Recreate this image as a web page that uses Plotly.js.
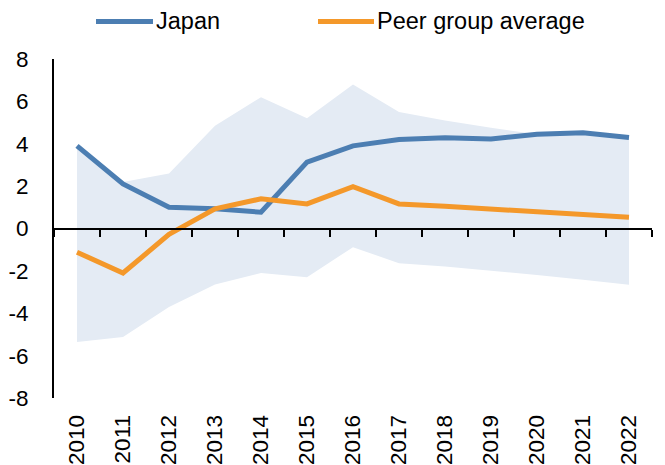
<!DOCTYPE html>
<html>
<head>
<meta charset="utf-8">
<script src="https://cdn.plot.ly/plotly-3.0.1.min.js"></script>
<style>html,body{margin:0;padding:0;background:#fff;}#chart{width:665px;height:465px;}</style>
</head>
<body>
<div id="chart"></div>
<script>
var years = [2010, 2011, 2012, 2013, 2014, 2015, 2016, 2017, 2018, 2019, 2020, 2021, 2022];
var japan = [3.9, 2.1, 1.0, 0.93, 0.77, 3.13, 3.9, 4.2, 4.28, 4.23, 4.45, 4.52, 4.3];
var peerAverage = [-1.12, -2.1, -0.28, 0.93, 1.4, 1.16, 1.97, 1.16, 1.05, 0.93, 0.82, 0.69, 0.53];
var peerMax = [3.8, 2.2, 2.6, 4.85, 6.2, 5.2, 6.8, 5.5, 5.1, 4.75, 4.45, 4.5, 4.3];
var peerMin = [-5.36, -5.12, -3.7, -2.64, -2.1, -2.3, -0.88, -1.64, -1.79, -1.98, -2.2, -2.42, -2.66];
var yTicks = [-8, -6, -4, -2, 0, 2, 4, 6, 8];
var seriesNames = ['Japan', 'Peer group average'];
var seriesColors = ['rgb(76,126,178)', 'rgb(244,152,42)'];

var boundaries = years.map(function (y) { return y - 0.5; }).concat([years[years.length - 1] + 0.5]);
var FAMILY = 'Liberation Sans, Arial, sans-serif';
var XFONT = {family: FAMILY, size: 22.5, color: '#000'};
var YFONT = {family: FAMILY, size: 22.5, color: '#000'};
var LEGFONT = {family: FAMILY, size: 23.5, color: '#000'};
var xRange = [years[0] - 0.5, years[years.length - 1] + 0.5];

// plot area geometry in pixels (for placing the hand-drawn legend)
var W = 665, H = 465, ML = 54, MR = 13, MT = 59, MB = 67;
var PW = W - ML - MR, PH = H - MT - MB;
function px(x) { return (x - ML) / PW; }
function py(y) { return (H - MB - y) / PH; }

var traces = [
  {x: years, y: peerMin, type: 'scatter', mode: 'lines', line: {width: 0, color: 'rgba(0,0,0,0)'},
   showlegend: false, hoverinfo: 'skip'},
  {x: years, y: peerMax, type: 'scatter', mode: 'lines', line: {width: 0, color: 'rgba(0,0,0,0)'},
   fill: 'tonexty', fillcolor: 'rgb(228,235,244)', showlegend: false, hoverinfo: 'skip'},
  {x: years, y: japan, type: 'scatter', mode: 'lines', name: seriesNames[0],
   line: {color: seriesColors[0], width: 5}},
  {x: years, y: peerAverage, type: 'scatter', mode: 'lines', name: seriesNames[1],
   line: {color: seriesColors[1], width: 5}},
  {x: years, y: japan, xaxis: 'x2', type: 'scatter', mode: 'none', showlegend: false, hoverinfo: 'skip'}
];

var legendItems = [
  {x0: 96, x1: 153, tx: 154.5},
  {x0: 318, x1: 374, tx: 376}
];
var legendY = 21.5;
var shapes = [], annotations = [];
legendItems.forEach(function (it, i) {
  shapes.push({type: 'line', xref: 'paper', yref: 'paper',
               x0: px(it.x0), x1: px(it.x1), y0: py(legendY), y1: py(legendY),
               line: {color: seriesColors[i], width: 5}});
  annotations.push({xref: 'paper', yref: 'paper', x: px(it.tx), y: py(legendY),
                    xanchor: 'left', yanchor: 'middle', text: seriesNames[i],
                    showarrow: false, font: LEGFONT, borderpad: 0});
});

var layout = {
  width: W, height: H,
  margin: {l: ML, r: MR, t: MT, b: MB, autoexpand: false},
  paper_bgcolor: '#fff', plot_bgcolor: '#fff',
  font: YFONT,
  showlegend: false,
  shapes: shapes,
  annotations: annotations,
  xaxis: {type: 'linear', range: xRange,
          tickvals: years, ticktext: years.map(String), tickangle: -90,
          showline: false, showgrid: false, zeroline: false,
          ticks: 'outside', ticklen: 7, tickcolor: 'rgba(0,0,0,0)', tickfont: XFONT},
  xaxis2: {type: 'linear', overlaying: 'x', anchor: 'free', position: 0.5, side: 'bottom',
           range: xRange,
           tickvals: boundaries, showticklabels: false,
           showline: true, linecolor: '#000', linewidth: 2,
           ticks: 'outside', ticklen: 7, tickwidth: 2, tickcolor: '#000',
           showgrid: false, zeroline: false},
  yaxis: {range: [-8, 8], tickvals: yTicks, ticktext: yTicks.map(String),
          showline: true, linecolor: '#000', linewidth: 2,
          showgrid: false, zeroline: false,
          ticks: 'outside', ticklen: 19, tickcolor: 'rgba(0,0,0,0)', tickfont: YFONT}
};

Plotly.newPlot('chart', traces, layout, {staticPlot: true, displayModeBar: false});
</script>
</body>
</html>
